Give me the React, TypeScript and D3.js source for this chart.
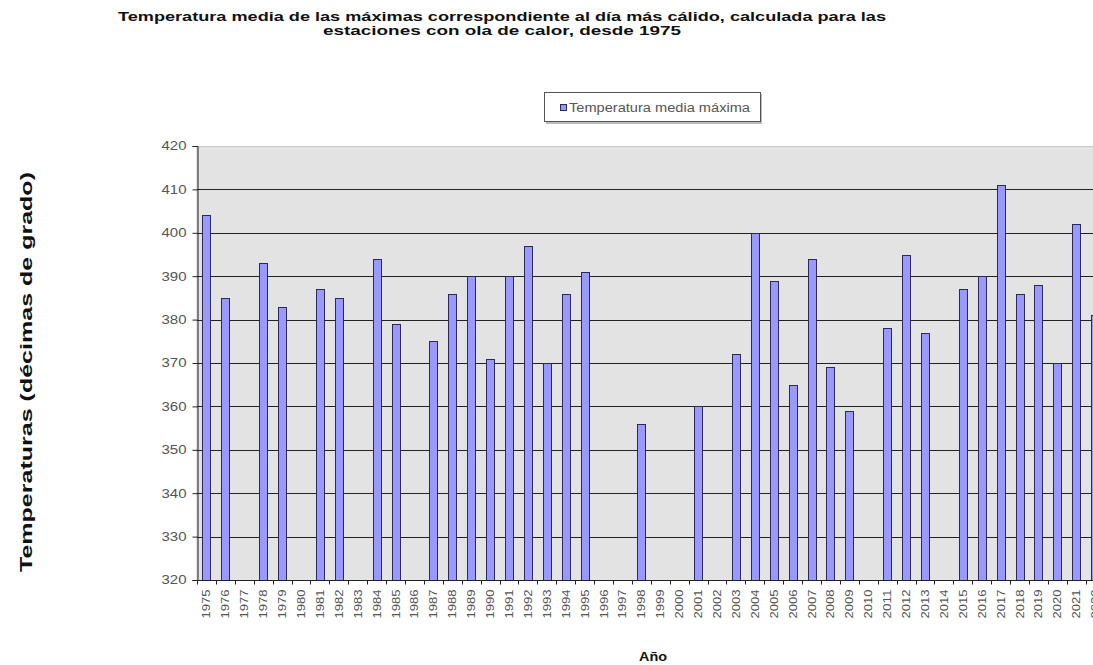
import React, { useRef, useEffect } from "react";
import * as d3 from "d3";

const years: string[] = d3.range(1975, 2023).map((y) => String(y));

// null = no heat wave that year
const values: (number | null)[] = [
  404, 385, null, 393, 383, null, 387, 385, null, 394,
  379, null, 375, 386, 390, 371, 390, 397, 370, 386,
  391, null, null, 356, null, null, 360, null, 372, 400,
  389, 365, 394, 369, 359, null, 378, 395, 377, null,
  387, 390, 411, 386, 388, 370, 402, 381,
];

const yTicks: number[] = [320, 330, 340, 350, 360, 370, 380, 390, 400, 410, 420];

const titleLines = [
  "Temperatura media de las máximas correspondiente al día más cálido, calculada para las",
  "estaciones con ola de calor, desde 1975",
];
const titleLengths = [768, 358];
const seriesName = "Temperatura media máxima";
const font = "Arial, 'Liberation Sans', sans-serif";

const App: React.FC = () => {
  const svgRef = useRef<SVGSVGElement | null>(null);
  const width = 1093;
  const height = 665;

  useEffect(() => {
    const svg = d3.select(svgRef.current);
    svg.selectAll("*").remove();

    const margin = { top: 146, left: 197, bottom: 85 };
    const band = 18.91;
    const innerWidth = band * years.length;
    const innerHeight = height - margin.top - margin.bottom;

    const x = d3
      .scaleBand<string>()
      .domain(years)
      .range([0, innerWidth]);

    const y = d3.scaleLinear().domain([320, 420]).range([innerHeight, 0]);

    const g = svg
      .append("g")
      .attr("transform", `translate(${margin.left},${margin.top})`);

    // plot background
    g.append("rect")
      .attr("x", 0)
      .attr("y", 0.5)
      .attr("width", innerWidth)
      .attr("height", innerHeight)
      .attr("fill", "#e4e3e3")
      .attr("stroke", "#c8c8c8")
      .attr("stroke-width", 1);

    // gridlines
    g.selectAll(".grid")
      .data(yTicks.filter((t) => t > 320 && t < 420))
      .join("line")
      .attr("x1", 0)
      .attr("x2", innerWidth)
      .attr("y1", (d) => Math.round(y(d)) + 0.5)
      .attr("y2", (d) => Math.round(y(d)) + 0.5)
      .attr("stroke", "#222")
      .attr("stroke-width", 1);

    // bars
    const barW = 8;
    g.selectAll(".bar")
      .data(years.map((yr, i) => ({ yr, v: values[i] })).filter((d) => d.v !== null))
      .join("rect")
      .attr("x", (d) => Math.round(x(d.yr)! + x.bandwidth() / 2 - barW / 2) + 0.5)
      .attr("y", (d) => Math.round(y(d.v as number)) + 0.5)
      .attr("width", barW)
      .attr("height", (d) => innerHeight - Math.round(y(d.v as number)))
      .attr("fill", "#9999ff")
      .attr("stroke", "#2a2a55")
      .attr("stroke-width", 1);

    // y axis
    const yAxis = d3
      .axisLeft(y)
      .tickValues(yTicks)
      .tickSize(5)
      .tickPadding(6)
      .tickFormat((d) => String(d));
    const ya = g.append("g").attr("transform", "translate(0.5,0)").call(yAxis);
    ya.select(".domain").attr("stroke", "#222");
    ya.selectAll(".tick line").attr("stroke", "#222");
    ya.selectAll("text")
      .attr("font-family", font)
      .attr("font-size", 12)
      .attr("textLength", 25)
      .attr("lengthAdjust", "spacingAndGlyphs")
      .attr("fill", "#555");

    // x axis
    const xa = g
      .append("g")
      .attr("transform", `translate(0,${innerHeight + 0.5})`);
    xa.append("line")
      .attr("x1", 0)
      .attr("x2", innerWidth)
      .attr("stroke", "#222");
    xa.selectAll(".xt")
      .data(d3.range(years.length + 1))
      .join("line")
      .attr("x1", (i) => Math.round(i * x.bandwidth()) + 0.5)
      .attr("x2", (i) => Math.round(i * x.bandwidth()) + 0.5)
      .attr("y1", 0)
      .attr("y2", 4)
      .attr("stroke", "#222");
    xa.selectAll(".xl")
      .data(years)
      .join("text")
      .attr(
        "transform",
        (d) => `translate(${x(d)! + x.bandwidth() / 2 + 4},${9}) rotate(-90)`
      )
      .attr("text-anchor", "end")
      .attr("font-family", font)
      .attr("font-size", 11)
      .attr("textLength", 29)
      .attr("lengthAdjust", "spacingAndGlyphs")
      .attr("fill", "#555")
      .text((d) => d);

    // title
    svg
      .append("text")
      .attr("y", 21)
      .attr("text-anchor", "middle")
      .attr("font-family", font)
      .attr("font-size", 13)
      .attr("font-weight", "bold")
      .attr("fill", "#111")
      .selectAll("tspan")
      .data(titleLines)
      .join("tspan")
      .attr("x", 502)
      .attr("dy", (_, i) => (i === 0 ? 0 : 14))
      .attr("textLength", (_, i) => titleLengths[i])
      .attr("lengthAdjust", "spacingAndGlyphs")
      .text((d) => d);

    // legend
    const lg = svg.append("g").attr("transform", "translate(544,92)");
    lg.append("rect")
      .attr("x", 2)
      .attr("y", 2)
      .attr("width", 216)
      .attr("height", 30)
      .attr("fill", "#bbb");
    lg.append("rect")
      .attr("x", 0.5)
      .attr("y", 0.5)
      .attr("width", 216)
      .attr("height", 29)
      .attr("fill", "#fff")
      .attr("stroke", "#555");
    lg.append("rect")
      .attr("x", 16.5)
      .attr("y", 12.5)
      .attr("width", 6)
      .attr("height", 6)
      .attr("fill", "#9999ff")
      .attr("stroke", "#2a2a55");
    lg.append("text")
      .attr("x", 25)
      .attr("y", 20)
      .attr("font-family", font)
      .attr("font-size", 12)
      .attr("textLength", 181)
      .attr("lengthAdjust", "spacingAndGlyphs")
      .attr("fill", "#555")
      .text(seriesName);

    // axis titles
    svg
      .append("text")
      .attr("transform", "translate(32,372) rotate(-90)")
      .attr("text-anchor", "middle")
      .attr("font-family", font)
      .attr("font-size", 17)
      .attr("font-weight", "bold")
      .attr("textLength", 400)
      .attr("lengthAdjust", "spacingAndGlyphs")
      .attr("fill", "#111")
      .text("Temperaturas (décimas de grado)");

    svg
      .append("text")
      .attr("x", 653)
      .attr("y", 661)
      .attr("text-anchor", "middle")
      .attr("font-family", font)
      .attr("font-size", 12)
      .attr("font-weight", "bold")
      .attr("textLength", 28)
      .attr("lengthAdjust", "spacingAndGlyphs")
      .attr("fill", "#111")
      .text("Año");
  }, []);

  return (
    <svg
      ref={svgRef}
      width={width}
      height={height}
      style={{ position: "absolute", left: 0, top: 0, background: "#fff", overflow: "hidden" }}
    />
  );
};

export default App;
